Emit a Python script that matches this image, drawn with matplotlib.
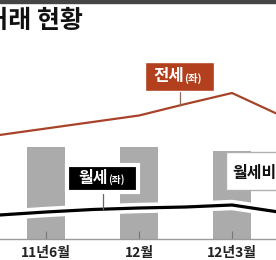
import matplotlib
matplotlib.use('Agg')
import matplotlib.pyplot as plt
import matplotlib.patheffects as pe
from matplotlib.patches import Rectangle
from matplotlib.lines import Line2D

plt.rcParams['font.family'] = ['Noto Sans CJK KR', 'DejaVu Sans']

# data (left axis units)
categories = ['11년6월', '12월', '12년3월']
bar_pos = [0, 1, 2]
bar_ratio = [92, 92, 88]          # 월세비율 bars
line_x = [-0.5, 0, 0.5, 1, 1.5, 2, 2.5]
jeonse = [104, 110.5, 117, 123.5, 135, 146, 124.5]
wolse = [24, 27, 29.5, 31, 32, 34, 27]

W, H = 276, 260
fig = plt.figure(figsize=(W / 100, H / 100), dpi=100)
fig.patch.set_facecolor('white')

def px(x, y):
    # figure pixel (from top-left) -> figure fraction
    return x / W, 1 - y / H

ax = fig.add_axes([0, 21 / H, 1, 1 - 21 / H])
ax.set_xlim(-0.495, 2.473)
ax.set_ylim(0, 239)
ax.patch.set_alpha(0)

ax.bar(bar_pos, bar_ratio, width=0.4, color='#ababab', zorder=1)
ax.plot(line_x, wolse, color='black', lw=2.3, solid_capstyle='round', zorder=3,
        path_effects=[pe.Stroke(linewidth=7.5, foreground='white'), pe.Normal()])
ax.plot(line_x, jeonse, color='#a8432a', lw=1.6, zorder=3)

for s in ['top', 'left', 'right']:
    ax.spines[s].set_visible(False)
ax.spines['bottom'].set_color('#9a9a9a')
ax.spines['bottom'].set_linewidth(1)
ax.set_yticks([])
ax.set_xticks(bar_pos)
ax.set_xticklabels(categories, fontsize=10, fontweight='bold', color='#222222')
ax.tick_params(axis='x', direction='in', length=6, width=0.8, color='#777777', pad=5)

# top border + title
fig.add_artist(Rectangle(px(0, 3), 1, 3 / H, transform=fig.transFigure,
                         color='#454545', zorder=10))
fig.text(*px(83, 21), '주택 전월세 거래 현황', ha='right', va='center',
         fontsize=18, fontweight='black', color='#111111')

# 전세(좌) label
x0, y0 = px(145, 91)
fig.add_artist(Rectangle((x0, y0), 69 / W, 29 / H, transform=fig.transFigure,
                         facecolor='#b2401f', edgecolor='white', lw=1, zorder=5))
fig.add_artist(Line2D([180 / W, 180 / W], [px(0, 91)[1], px(0, 105)[1]],
                      transform=fig.transFigure, color='#8a6a5a', lw=0.9, zorder=4))
fig.text(*px(184, 76), '전세', ha='right', va='center', fontsize=12,
         fontweight='bold', color='white', zorder=6)
fig.text(*px(184, 78), '(좌)', ha='left', va='center', fontsize=7.5,
         fontweight='bold', color='white', zorder=6)

# 월세(좌) label
x0, y0 = px(67, 192)
fig.add_artist(Rectangle((x0, y0), 71 / W, 27 / H, transform=fig.transFigure,
                         facecolor='black', edgecolor='white', lw=3, zorder=5))
fig.add_artist(Line2D([103 / W, 103 / W], [px(0, 192)[1], px(0, 209)[1]],
                      transform=fig.transFigure, color='#666666', lw=0.9, zorder=4))
fig.text(*px(108, 178), '월세', ha='right', va='center', fontsize=11.5,
         fontweight='bold', color='white', zorder=6)
fig.text(*px(108, 180), '(좌)', ha='left', va='center', fontsize=7,
         fontweight='bold', color='white', zorder=6)

# 월세비율(우) label
x0, y0 = px(226, 190)
fig.add_artist(Rectangle((x0, y0), 60 / W, 38 / H, transform=fig.transFigure,
                         facecolor='white', edgecolor='#b0b0b0', lw=1, zorder=5))
fig.text(*px(232, 172), '월세비율(우)', ha='left', va='center', fontsize=11.5,
         fontweight='bold', color='#111111', zorder=6)

fig.savefig('out.png', dpi=100)
